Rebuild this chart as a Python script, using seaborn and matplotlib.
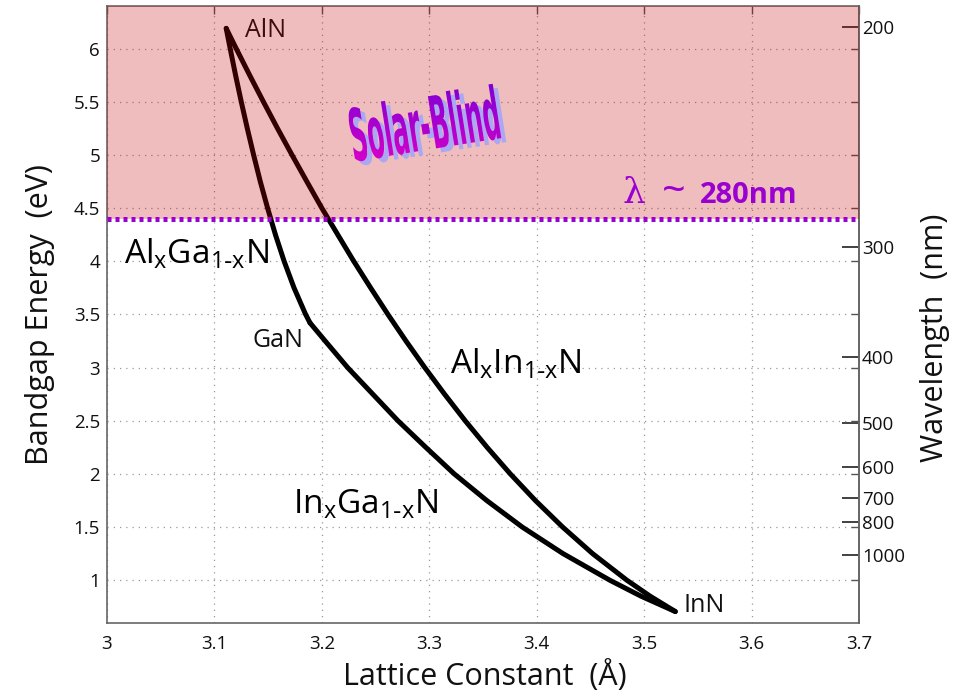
import matplotlib.pyplot as plt
import numpy as np
import pandas as pd
import seaborn as sns
from matplotlib.colors import LinearSegmentedColormap
from matplotlib.font_manager import FontProperties
from matplotlib.patches import PathPatch
from matplotlib.textpath import TextPath
from matplotlib.transforms import Affine2D

# Curves: lattice constant (A) vs bandgap (eV)
algan_a = [3.111, 3.1147, 3.1197, 3.125, 3.1306, 3.1365, 3.1427, 3.1495,
           3.1568, 3.1649, 3.1741, 3.1849, 3.189]
algan_eg = [6.19, 6.0, 5.75, 5.5, 5.25, 5.0, 4.75, 4.5, 4.25, 4.0, 3.75, 3.5, 3.42]

ingan_a = [3.189, 3.2031, 3.2240, 3.2474, 3.2708, 3.2967, 3.3232, 3.3534,
           3.3865, 3.4245, 3.4680, 3.4970, 3.529]
ingan_eg = [3.42, 3.25, 3.0, 2.75, 2.5, 2.25, 2.0, 1.75, 1.5, 1.25, 1.0, 0.85, 0.705]

alinn_a = [3.111, 3.1203, 3.1328, 3.1456, 3.1587, 3.1722, 3.186, 3.2000,
           3.2148, 3.2297, 3.2454, 3.2615, 3.2783, 3.2958, 3.3142, 3.3334,
           3.3538, 3.3754, 3.3987, 3.4241, 3.4520, 3.4839, 3.5055, 3.529]
alinn_eg = [6.19, 6.0, 5.75, 5.5, 5.25, 5.0, 4.75, 4.5, 4.25, 4.0, 3.75, 3.5,
            3.25, 3.0, 2.75, 2.5, 2.25, 2.0, 1.75, 1.5, 1.25, 1.0, 0.85, 0.705]

x_ticks = [3.0, 3.1, 3.2, 3.3, 3.4, 3.5, 3.6, 3.7]
y_ticks = [1, 1.5, 2, 2.5, 3, 3.5, 4, 4.5, 5, 5.5, 6]
wavelength_ticks = [200, 300, 400, 500, 600, 700, 800, 1000]
solar_blind_edge = 4.4


def ev_to_nm(e):
    with np.errstate(divide="ignore"):
        return 1240.0 / np.asarray(e, dtype=float)


def nm_to_ev(w):
    with np.errstate(divide="ignore"):
        return 1240.0 / np.asarray(w, dtype=float)


df = pd.concat([
    pd.DataFrame({"a": algan_a, "eg": algan_eg, "alloy": "AlGaN"}),
    pd.DataFrame({"a": ingan_a, "eg": ingan_eg, "alloy": "InGaN"}),
    pd.DataFrame({"a": alinn_a, "eg": alinn_eg, "alloy": "AlInN"}),
])

sns.set_theme(style="white")
plt.rcParams["font.family"] = ["Open Sans", "DejaVu Sans"]
plt.rcParams["mathtext.default"] = "regular"

fig = plt.figure(figsize=(9.55, 6.96), dpi=100)
ax = fig.add_axes([0.112, 0.1053, 0.7875, 0.886])

sns.lineplot(data=df, x="a", y="eg", units="alloy", estimator=None, sort=False,
             color="black", lw=3.6, ax=ax, zorder=2, solid_joinstyle="round")

# pink overlay for the solar-blind band (sits over the curves, like the original)
ax.axhspan(solar_blind_edge, 6.4, color=(0.77, 0.0, 0.0), alpha=0.26, lw=0, zorder=3)
ax.axhline(solar_blind_edge, color="#9a00d0", lw=3.6, ls=(0, (0.8, 0.8)),
           dash_capstyle="butt", zorder=4)

ax.set_xlim(3.0, 3.7)
ax.set_ylim(0.6, 6.4)
ax.set_xticks(x_ticks)
ax.set_xticklabels([f"{v:g}" for v in x_ticks])
ax.set_yticks(y_ticks)
ax.set_yticklabels([f"{v:g}" for v in y_ticks])
ax.tick_params(direction="in", length=6, width=1, color="#555555", labelsize=13.5,
               labelcolor="#111111", top=True, right=True)
ax.tick_params(axis="x", pad=9)
ax.tick_params(axis="y", pad=5)
ax.set_axisbelow(True)
ax.grid(True, ls=(0, (1, 4)), color="#9a9a9a", lw=0.9)
for sp in ax.spines.values():
    sp.set_color("#666666")
    sp.set_linewidth(1.2)

ax.set_xlabel("Lattice Constant  (Å)", fontsize=22, color="#111111", va="center")
ax.set_ylabel("Bandgap Energy  (eV)", fontsize=22, color="#111111", va="center")
ax.xaxis.set_label_coords(0.503, -0.086)
ax.yaxis.set_label_coords(-0.089, 0.5)

sec = ax.secondary_yaxis("right", functions=(ev_to_nm, nm_to_ev))
sec.set_yticks(wavelength_ticks)
sec.set_yticklabels([str(w) for w in wavelength_ticks])
sec.tick_params(direction="in", length=12, width=1.3, color="#333333", labelsize=13.5,
                labelcolor="#111111", pad=2)
sec.minorticks_off()
sec.spines["right"].set_color("#666666")
sec.set_ylabel("Wavelength  (nm)", fontsize=22, color="#111111", va="center")
sec.yaxis.set_label_coords(1.101, 0.462, transform=ax.transAxes)

# point labels
ax.text(3.1474, 6.17, "AlN", fontsize=18, ha="center", va="center", color="#111111", zorder=2.5)
ax.text(3.1595, 3.258, "GaN", fontsize=18, ha="center", va="center", color="#111111", zorder=5)
ax.text(3.556, 0.758, "InN", fontsize=18, ha="center", va="center", color="#111111", zorder=5)

# alloy labels
ax.text(3.0833, 3.98, r"$Al_xGa_{1\text{-}x}N$", fontsize=24, ha="center", va="baseline",
        color="black", zorder=5)
ax.text(3.2405, 1.63, r"$In_xGa_{1\text{-}x}N$", fontsize=24, ha="center", va="baseline",
        color="black", zorder=5)
ax.text(3.3805, 2.945, r"$Al_xIn_{1\text{-}x}N$", fontsize=24, ha="center", va="baseline",
        color="black", zorder=5)

ax.text(3.4907, 4.543, "λ", fontsize=26, family=["DejaVu Serif"], color="#9a00d0",
        ha="center", va="baseline", zorder=5)
ax.text(3.528, 4.543, "~", fontsize=30, color="#9a00d0", ha="center", va="baseline", zorder=5)
ax.text(3.552, 4.543, "280nm", fontsize=21, fontweight="bold", color="#9a00d0",
        ha="left", va="baseline", zorder=5)

# "Solar-Blind" word-art: squeezed bold text, lavender shadow, purple gradient
tp = TextPath((0, 0), "Solar-Blind", size=1,
              prop=FontProperties(family="DejaVu Sans", weight="bold", stretch="condensed"))
bb = tp.get_extents()
base = (Affine2D().translate(-bb.x0 - bb.width / 2, -bb.y0 - bb.height / 2)
        .scale(148 / bb.width, 56 / bb.height).rotate_deg(9))
shadow = PathPatch(tp, transform=base + Affine2D().translate(429, 569),
                   facecolor="#aaa8f2", edgecolor="none", zorder=5)
ax.add_patch(shadow)
face = PathPatch(tp, transform=base + Affine2D().translate(424, 573),
                 facecolor="none", edgecolor="none")
grad = np.linspace(0, 1, 100).reshape(-1, 1)
cmap = LinearSegmentedColormap.from_list("wa", ["#6800d6", "#e600c8"])
im = ax.imshow(grad, cmap=cmap, extent=(3.21, 3.40, 4.8, 5.85), aspect="auto",
               origin="upper", zorder=6)
im.set_clip_path(face)
ax.set_xlim(3.0, 3.7)
ax.set_ylim(0.6, 6.4)

if ax.get_legend() is not None:
    ax.get_legend().remove()

fig.savefig("out.png", dpi=100)
